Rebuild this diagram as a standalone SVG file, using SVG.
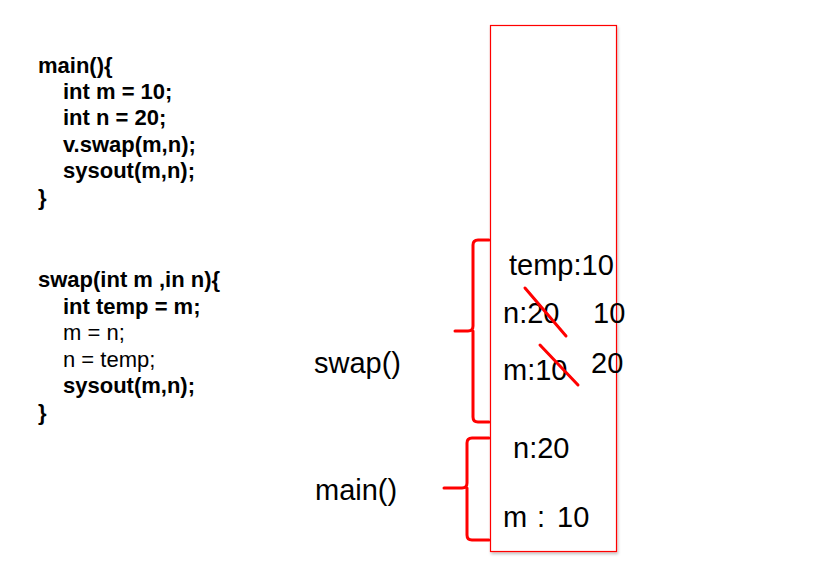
<svg xmlns="http://www.w3.org/2000/svg" width="836" height="563" viewBox="0 0 836 563">
<defs>
<filter id="sh" x="-10%" y="-5%" width="120%" height="110%"><feDropShadow dx="1" dy="2" stdDeviation="1.5" flood-color="#000" flood-opacity="0.25"/></filter>
</defs>
<style>
.code{font-family:"Liberation Sans",Arial,sans-serif;font-size:22px;fill:#000}
.b{font-weight:bold}
.lbl{font-family:"Liberation Sans",Arial,sans-serif;font-size:29px;fill:#000}
.red{fill:none;stroke:#ff0000;stroke-width:3;stroke-linecap:round;stroke-linejoin:round}
</style>
<rect width="836" height="563" fill="#fff"/>
<g id="code-main">
<text class="code b" x="38" y="73">main(){</text>
<text class="code b" x="63" y="99">int m = 10;</text>
<text class="code b" x="63" y="125">int n = 20;</text>
<text class="code b" x="63" y="151.5">v.swap(m,n);</text>
<text class="code b" x="63" y="178">sysout(m,n);</text>
<text class="code b" x="38" y="204.5">}</text>
</g>
<g id="code-swap">
<text class="code b" x="38" y="287">swap(int m ,in n){</text>
<text class="code b" x="63" y="313.5">int temp = m;</text>
<text class="code" x="63" y="340">m = n;</text>
<text class="code" x="63" y="366.5">n = temp;</text>
<text class="code b" x="63" y="393">sysout(m,n);</text>
<text class="code b" x="38" y="419.5">}</text>
</g>
<g id="stack">
<rect x="490.5" y="25.5" width="126" height="526" fill="#fff" stroke="#ff0000" stroke-width="1.2" filter="url(#sh)"/>
</g>
<g id="swap-frame">
<text class="lbl" x="314" y="373">swap()</text>
<text class="lbl" x="509" y="275">temp:10</text>
<text class="lbl" x="503" y="323">n:20</text>
<text class="lbl" x="593" y="323">10</text>
<text class="lbl" x="503" y="380">m:10</text>
<text class="lbl" x="591" y="373">20</text>
</g>
<g id="main-frame">
<text class="lbl" x="315" y="500">main()</text>
<text class="lbl" x="513" y="458">n:20</text>
<text class="lbl" x="503" y="527">m<tspan x="537">:</tspan><tspan x="557">10</tspan></text>
</g>
<g id="connectors">
<path class="red" d="M489,240 L478,240 Q473,240 473,245 L473,326 Q473,331 468,331 L455,331 M473,331 Q473,336 473,341 L473,417 Q473,422 478,422 L489,422"/>
<path class="red" d="M489,438 L472,438 Q467,438 467,443 L467,483 Q467,488 462,488 L444,488 M467,488 Q467,493 467,498 L467,535 Q467,540 472,540 L489,540"/>
<line class="red" x1="525" y1="288" x2="566" y2="336"/>
<line class="red" x1="540" y1="345" x2="578" y2="385"/>
</g>
</svg>
